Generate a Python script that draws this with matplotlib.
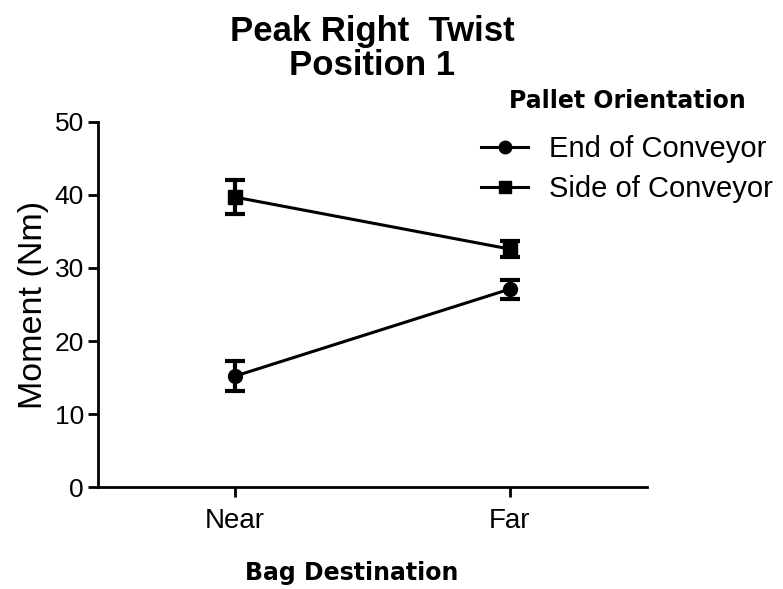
import numpy as np
import matplotlib.pyplot as plt
from matplotlib.lines import Line2D

plt.rcParams['font.family'] = ['Liberation Sans', 'DejaVu Sans']

# Données
categories = ["Near", "Far"]
end_mean = [15.2, 27.1]
end_err = [2.0, 1.3]
side_mean = [39.7, 32.6]
side_err = [2.3, 1.1]
series_names = ["End of Conveyor", "Side of Conveyor"]

x = np.arange(len(categories))

fig = plt.figure(figsize=(7.83, 5.89), dpi=100)
ax = fig.add_axes([0.125, 0.173, 0.701, 0.62])

ax.errorbar(x, end_mean, yerr=end_err, fmt='o-', color='black', lw=2.2,
            ms=10, capsize=7, capthick=3, elinewidth=3)
ax.errorbar(x, side_mean, yerr=side_err, fmt='s-', color='black', lw=2.2,
            ms=10, capsize=7, capthick=3, elinewidth=3)

ax.set_xlim(-0.5, 1.5)
ax.set_ylim(0, 50)
ax.set_yticks([0, 10, 20, 30, 40, 50])
ax.set_xticks(x)
ax.set_xticklabels(categories)

for s in ['top', 'right']:
    ax.spines[s].set_visible(False)
for s in ['left', 'bottom']:
    ax.spines[s].set_linewidth(2)
ax.tick_params(width=2, length=7, labelsize=19, pad=3)
ax.tick_params(axis='x', labelsize=20, pad=8)

ax.set_ylabel("Moment (Nm)", fontsize=24.5, labelpad=4)
ax.set_xlabel("Bag Destination", fontsize=17, fontweight='bold',
              family='DejaVu Sans', va='center')
ax.xaxis.set_label_coords(0.463, -0.236)
fig.text(0.475, 0.975, "Peak Right  Twist\nPosition 1", fontsize=25,
         fontweight='bold', linespacing=1.05, ha='center', va='top')

handles = [Line2D([], [], color='black', marker='o', lw=2.2, ms=9),
           Line2D([], [], color='black', marker='s', lw=2.2, ms=9)]
leg = fig.legend(handles, series_names, title="Pallet Orientation",
                 loc='upper left', bbox_to_anchor=(0.60, 0.869),
                 frameon=False, fontsize=21, handlelength=1.6, handletextpad=0.7,
                 labelspacing=0.42, borderaxespad=0,
                 title_fontproperties={'weight': 'bold', 'size': 17,
                                       'family': 'DejaVu Sans'})
leg._legend_box.align = "center"
leg._legend_box.sep = 16

plt.savefig("out.png")
